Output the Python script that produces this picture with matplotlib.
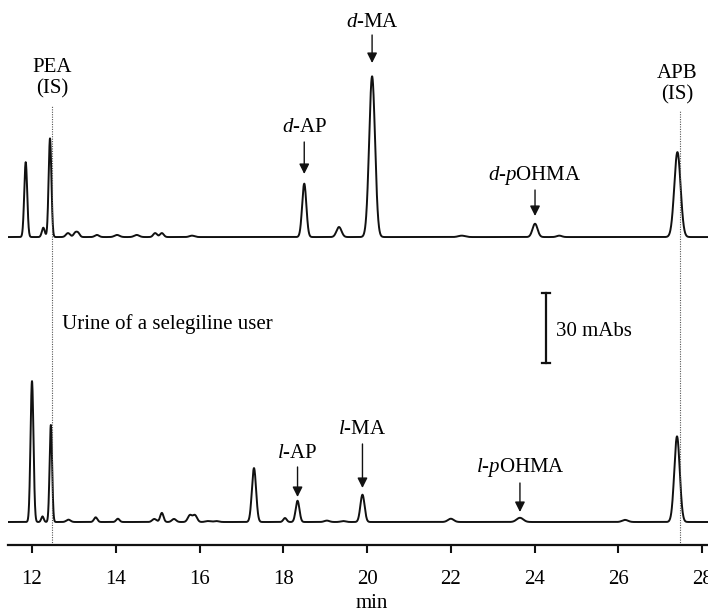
import numpy as np
import matplotlib
matplotlib.use("Agg")
import matplotlib.pyplot as plt

plt.rcParams['font.family'] = ['Liberation Serif', 'DejaVu Serif']
plt.rcParams['mathtext.fontset'] = 'custom'
plt.rcParams['mathtext.rm'] = 'Liberation Serif'
plt.rcParams['mathtext.it'] = 'Liberation Serif:italic'

# ---- data: peak tables (retention time [min], height [mAbs], sigma [min]) ----
top_rt = [11.85, 12.27, 12.43, 12.86, 13.03, 13.10, 13.55, 14.03, 14.50, 14.94, 15.10,
          15.82, 18.50, 19.33, 20.12, 22.26, 24.01, 24.59, 27.41]
top_h = [32.1, 4.0, 42.3, 1.7, 1.7, 1.7, 0.9, 0.9, 0.9, 1.7, 1.7,
         0.6, 22.9, 4.3, 68.9, 0.6, 5.7, 0.6, 36.4]
top_w = [0.035, 0.035, 0.033, 0.05, 0.04, 0.04, 0.05, 0.06, 0.06, 0.045, 0.045,
         0.06, 0.05, 0.06, 0.07, 0.08, 0.06, 0.06, 0.075]
top_base = 132.0

bot_rt = [12.00, 12.25, 12.45, 12.87, 13.52, 14.05, 14.92, 15.10, 15.39, 15.77, 15.89,
          16.20, 16.40, 17.30, 18.04, 18.34, 19.04, 19.43, 19.89, 22.00, 23.65, 26.16, 27.40]
bot_h = [60.4, 2.4, 41.6, 1.0, 2.0, 1.4, 1.3, 3.9, 1.3, 2.9, 2.9,
         0.4, 0.4, 23.1, 1.7, 9.1, 0.6, 0.4, 11.7, 1.4, 1.8, 0.9, 36.7]
bot_w = [0.035, 0.03, 0.03, 0.05, 0.04, 0.04, 0.05, 0.04, 0.05, 0.05, 0.05,
         0.06, 0.06, 0.05, 0.04, 0.045, 0.06, 0.06, 0.05, 0.07, 0.08, 0.07, 0.065]
bot_base = 9.86

xticks = [12, 14, 16, 18, 20, 22, 24, 26, 28]
is_rt = [12.48, 27.47]   # PEA (IS), APB (IS)

# ---- build traces ----
t = np.linspace(11.40, 28.20, 4000)

def trace(rt, h, w, base):
    y = np.full_like(t, base)
    for r, hh, ww in zip(rt, h, w):
        y += hh * np.exp(-0.5 * ((t - r) / ww) ** 2)
    return y

y_top = trace(top_rt, top_h, top_w, top_base)
y_bot = trace(bot_rt, bot_h, bot_w, bot_base)

# ---- figure ----
W, H = 708, 616
fig = plt.figure(figsize=(W / 100, H / 100), dpi=100)
ax = fig.add_axes([8 / W, 71 / H, 700 / W, 545 / H])
PXU = 2.333  # pixels per mAbs
ax.set_xlim(11.427, 28.14)
ax.set_ylim(0, 545 / PXU)

def ypx(p):  # figure pixel row -> data y
    return (545 - p) / PXU

ax.plot(t, y_top, color='#111111', lw=1.4, solid_joinstyle='round')
ax.plot(t, y_bot, color='#111111', lw=1.4, solid_joinstyle='round')

for r, top in zip(is_rt, [ypx(106), ypx(110)]):
    ax.plot([r, r], [0, top], color='#555555', lw=0.8, ls=(0, (1, 1.2)))

for s in ['top', 'right', 'left']:
    ax.spines[s].set_visible(False)
ax.spines['bottom'].set_linewidth(1.6)
ax.spines['bottom'].set_color('#111111')
ax.set_yticks([])
ax.set_xticks(xticks)
ax.set_xticklabels([str(v) for v in xticks], fontsize=15)
ax.tick_params(axis='x', direction='out', length=6, width=1.5, pad=12, color='#111111')

fs = 15
# IS labels
ax.text(12.48, ypx(98), "PEA\n(IS)", ha='center', va='bottom', fontsize=fs, linespacing=1.12)
ax.text(27.41, ypx(104), "APB\n(IS)", ha='center', va='bottom', fontsize=fs, linespacing=1.12)

def label(txt, x, ytext_px, ytail_px, ytip_px):
    ax.text(x, ypx(ytext_px), txt, ha='center', va='baseline', fontsize=fs)
    ax.annotate('', xy=(x, ypx(ytip_px)), xytext=(x, ypx(ytail_px)),
                arrowprops=dict(arrowstyle='-|>', color='#111111', lw=1.0,
                                mutation_scale=15, shrinkA=0, shrinkB=0))

label("$d$-AP", 18.50, 132, 142, 174)
label("$d$-MA", 20.12, 27, 35, 63)
label("$d$-$p$OHMA", 24.01, 180, 190, 216)
label("$l$-AP", 18.34, 458, 467, 497)
label("$l$-MA", 19.89, 434, 444, 488)
label("$l$-$p$OHMA", 23.65, 472, 483, 512)

ax.text(12.72, ypx(329), "Urine of a selegiline user", ha='left', va='baseline', fontsize=fs)

# scale bar: 30 mAbs
xb = 24.27
yb0 = ypx(363)
ax.plot([xb, xb], [yb0, yb0 + 30], color='#111111', lw=1.6)
for yy in [yb0, yb0 + 30]:
    ax.plot([xb - 0.1, xb + 0.1], [yy, yy], color='#111111', lw=1.6)
ax.text(24.5, ypx(336), "30 mAbs", ha='left', va='baseline', fontsize=fs)

fig.text(372 / W, 1 - 604 / H, "min", ha='center', va='center', fontsize=fs)

fig.savefig("out.png", dpi=100)
